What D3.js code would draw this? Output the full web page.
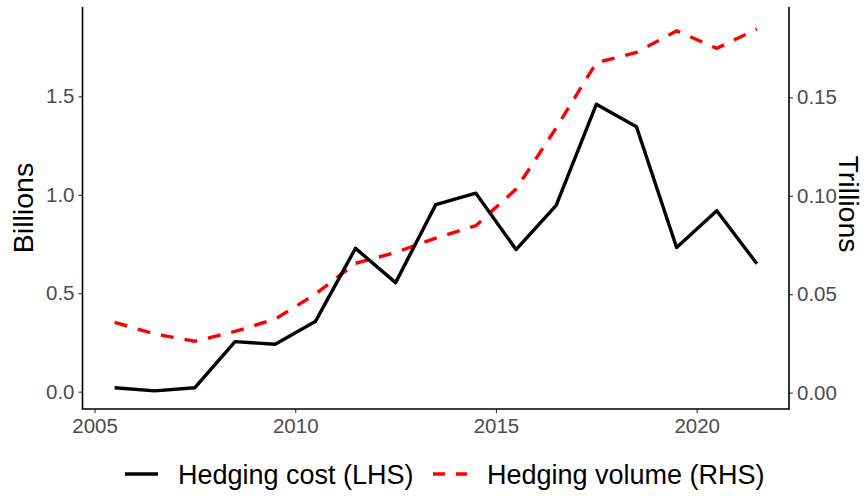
<!DOCTYPE html>
<html>
  <head>
    <meta charset="utf-8">
    <script src="https://d3js.org/d3.v7.min.js"></script>
    <style>
      body {
        margin: 0px;
        background: white;
      }
      text {
        font-family: "Liberation Sans", Arial, sans-serif;
      }
      .tick text {
        fill: #4D4D4D;
        font-size: 20.5px;
      }
      .tick line {
        stroke: #333333;
        stroke-width: 1.1;
      }
      .axis-title {
        fill: #000000;
        font-size: 28.5px;
      }
      .legend-label {
        fill: #000000;
        font-size: 27px;
      }
    </style>
  </head>
  <body>
    <svg width="868" height="496"></svg>
    <script>
      // observations sit at mid-year
      var years = [2005, 2006, 2007, 2008, 2009, 2010, 2011, 2012, 2013,
                   2014, 2015, 2016, 2017, 2018, 2019, 2020, 2021];
      // hedging cost, billions (left axis)
      var hedgingCost = [0.020, 0.004, 0.020, 0.254, 0.241, 0.356, 0.728, 0.554, 0.950,
                         1.008, 0.722, 0.946, 1.460, 1.346, 0.732, 0.919, 0.650];
      // hedging volume, trillions (right axis)
      var hedgingVolume = [0.0357, 0.0298, 0.0261, 0.0311, 0.0374, 0.0500, 0.0657, 0.0712, 0.0785,
                           0.0848, 0.1034, 0.1345, 0.1676, 0.1728, 0.1838, 0.1749, 0.1847];
      var xTicks = [2005, 2010, 2015, 2020];
      var leftTicks = [0, 0.5, 1.0, 1.5];
      var rightTicks = [0, 0.05, 0.10, 0.15];
      var seriesNames = ["Hedging cost (LHS)", "Hedging volume (RHS)"];

      function draw() {
        var pLeft = 82.5, pRight = 789, pTop = 7, pBottom = 409;

        var svg = d3.select("svg");

        var x = d3.scaleLinear().domain([2004.7, 2022.3]).range([pLeft, pRight]);
        var yL = d3.scaleLinear().domain([-0.088, 1.954]).range([pBottom, pTop]);
        var yR = d3.scaleLinear().domain([-0.0083, 0.1959]).range([pBottom, pTop]);

        var costData = years.map(function(d, i) { return {x: d + 0.5, v: hedgingCost[i]}; });
        var volData = years.map(function(d, i) { return {x: d + 0.5, v: hedgingVolume[i]}; });

        // axes
        var xAxis = d3.axisBottom(x).tickValues(xTicks).tickFormat(d3.format("d"))
          .tickSizeOuter(0).tickSizeInner(4).tickPadding(4);
        var yAxisL = d3.axisLeft(yL).tickValues(leftTicks).tickFormat(d3.format(".1f"))
          .tickSizeOuter(0).tickSizeInner(4).tickPadding(4);
        var yAxisR = d3.axisRight(yR).tickValues(rightTicks).tickFormat(d3.format(".2f"))
          .tickSizeOuter(0).tickSizeInner(4).tickPadding(4);

        svg.append("g")
          .attr("transform", "translate(0," + pBottom + ")")
          .call(xAxis)
          .call(function(g) { g.select(".domain").remove(); })
          .selectAll("text").attr("dy", "0.78em");

        svg.append("g")
          .attr("transform", "translate(" + pLeft + ",0)")
          .call(yAxisL)
          .call(function(g) { g.select(".domain").remove(); });

        svg.append("g")
          .attr("transform", "translate(" + pRight + ",0)")
          .call(yAxisR)
          .call(function(g) { g.select(".domain").remove(); });

        // axis lines (no top border)
        svg.append("path")
          .attr("d", "M" + pLeft + "," + pTop + "V" + pBottom + "H" + pRight + "V" + pTop)
          .attr("fill", "none")
          .attr("stroke", "black")
          .attr("stroke-width", 1.6);

        // lines
        var lineL = d3.line()
          .x(function(d) { return x(d.x); })
          .y(function(d) { return yL(d.v); });
        var lineR = d3.line()
          .x(function(d) { return x(d.x); })
          .y(function(d) { return yR(d.v); });

        svg.append("path")
          .datum(volData)
          .attr("d", lineR)
          .attr("fill", "none")
          .attr("stroke", "#FF0000")
          .attr("stroke-width", 3.4)
          .attr("stroke-dasharray", "13,11");

        svg.append("path")
          .datum(costData)
          .attr("d", lineL)
          .attr("fill", "none")
          .attr("stroke", "black")
          .attr("stroke-width", 3.4)
          .attr("stroke-linejoin", "round");

        // axis titles
        svg.append("text")
          .attr("class", "axis-title")
          .attr("text-anchor", "middle")
          .attr("transform", "translate(33,208) rotate(-90)")
          .text("Billions");

        svg.append("text")
          .attr("class", "axis-title")
          .attr("text-anchor", "middle")
          .attr("transform", "translate(839,204) rotate(90)")
          .text("Trillions");

        // legend
        var legY = 474;
        svg.append("line")
          .attr("x1", 125).attr("x2", 158)
          .attr("y1", legY).attr("y2", legY)
          .attr("stroke", "black").attr("stroke-width", 3.4);
        svg.append("text")
          .attr("class", "legend-label")
          .attr("x", 178).attr("y", legY + 9.7)
          .text(seriesNames[0]);

        svg.append("line")
          .attr("x1", 433).attr("x2", 467)
          .attr("y1", legY).attr("y2", legY)
          .attr("stroke", "#FF0000").attr("stroke-width", 3.4)
          .attr("stroke-dasharray", "12,11");
        svg.append("text")
          .attr("class", "legend-label")
          .attr("x", 487).attr("y", legY + 9.7)
          .text(seriesNames[1]);
      }

      draw();
    </script>
  </body>
</html>
